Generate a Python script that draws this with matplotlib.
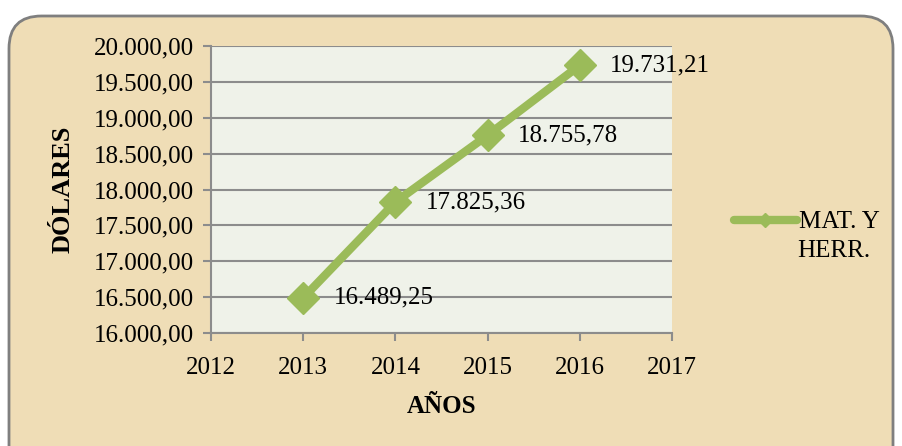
import matplotlib
matplotlib.use("Agg")
import matplotlib.pyplot as plt
from matplotlib.lines import Line2D
from matplotlib.patches import FancyBboxPatch
from matplotlib.ticker import FuncFormatter

# Datos
anios = [2013, 2014, 2015, 2016]
valores = [16489.25, 17825.36, 18755.78, 19731.21]
serie = ["MAT. Y", "HERR."]
y_ticks = [16000, 16500, 17000, 17500, 18000, 18500, 19000, 19500, 20000]
x_ticks = [2012, 2013, 2014, 2015, 2016, 2017]

verde = "#9BBB59"
fondo = "#EFDDB6"
plt.rcParams['font.family'] = ['Liberation Serif', 'DejaVu Serif']
fs = 18


def formato_es(v, pos=None):
    s = f"{v:,.2f}"
    return s.replace(",", "X").replace(".", ",").replace("X", ".")


fig = plt.figure(figsize=(9.02, 4.46), dpi=100)
fig.patch.set_facecolor("white")

# marco redondeado con fondo tipo pergamino
W, H = 902, 446
marco = FancyBboxPatch((9 / W, -0.1), (893 - 9) / W, (H - 16) / H + 0.1,
                       boxstyle="round,pad=0,rounding_size=0.036",
                       transform=fig.transFigure, facecolor=fondo,
                       edgecolor="#7F7F7F", linewidth=2, mutation_aspect=W / H,
                       zorder=-10)
fig.patches.append(marco)

ax = fig.add_axes([211 / W, 1 - 333 / H, (672 - 211) / W, (333 - 46) / H])
ax.set_facecolor("#EFF2E9")

ax.plot(anios, valores, color=verde, linewidth=6, marker="D",
        markersize=16, solid_joinstyle="miter")

for x, y in zip(anios, valores):
    ax.annotate(formato_es(y), (x, y), xytext=(22, 0), textcoords="offset points",
                va="center", ha="left", fontsize=fs)

ax.set_xlim(2012, 2017)
ax.set_ylim(16000, 20000)
ax.set_xticks(x_ticks)
ax.set_yticks(y_ticks)
ax.yaxis.set_major_formatter(FuncFormatter(formato_es))
ax.grid(axis="y", color="#8C8C8C", linewidth=1.5)
ax.set_axisbelow(True)
for lado in ["top", "right"]:
    ax.spines[lado].set_visible(False)
for lado in ["left", "bottom"]:
    ax.spines[lado].set_color("#8C8C8C")
    ax.spines[lado].set_linewidth(1.5)
ax.tick_params(axis="both", direction="out", length=6, color="#8C8C8C",
               width=1.5, labelsize=fs)
ax.tick_params(axis="x", pad=11)
ax.tick_params(axis="y", pad=6)

ax.set_xlabel("AÑOS", fontsize=fs, fontweight="bold", labelpad=12)
ax.set_ylabel("DÓLARES", fontsize=19, fontweight="bold", labelpad=14)

handle = Line2D([], [], color=verde, linewidth=6, marker="D", markersize=7,
                solid_capstyle="round")
fig.legend([handle], [serie[0]], loc="center left",
           bbox_to_anchor=(734 / W, 1 - 222 / H), frameon=False, fontsize=fs,
           handlelength=2.5, handletextpad=0.1, borderaxespad=0, borderpad=0)
fig.text(797 / W, 1 - 251 / H, serie[1], fontsize=fs, va="center", ha="left")

fig.savefig("out.png", dpi=100, facecolor=fig.get_facecolor())
